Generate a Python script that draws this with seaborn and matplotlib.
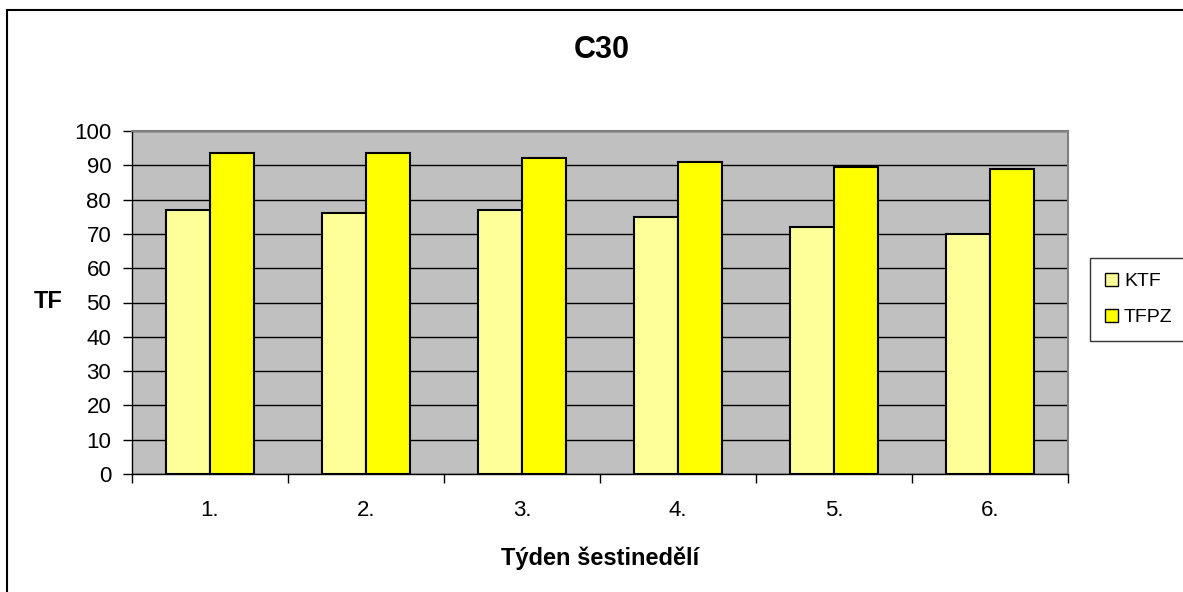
import matplotlib
matplotlib.use("Agg")
import matplotlib.pyplot as plt
import seaborn as sns
import pandas as pd
import numpy as np
from matplotlib.patches import Rectangle, Patch
from matplotlib.ticker import FixedLocator, NullFormatter

weeks = ["1.", "2.", "3.", "4.", "5.", "6."]
ktf = [77, 76, 77, 75, 72, 70]
tfpz = [93.5, 93.5, 92, 91, 89.5, 89]
series = ["KTF", "TFPZ"]
colors = {"KTF": "#FFFF99", "TFPZ": "#FFFF00"}

df = pd.DataFrame({
    "week": weeks * 2,
    "value": ktf + tfpz,
    "series": ["KTF"] * len(weeks) + ["TFPZ"] * len(weeks),
})

sns.set_theme(style="white")
plt.rcParams["font.family"] = ["Liberation Sans", "DejaVu Sans"]
plt.rcParams["text.color"] = "black"
plt.rcParams["axes.labelcolor"] = "black"

W, H = 1183, 592
fig = plt.figure(figsize=(W / 100, H / 100), dpi=100)
left, right, top, bottom = 132, 1068, 131, 474
ax = fig.add_axes([left / W, 1 - bottom / H, (right - left) / W, (bottom - top) / H])

sns.barplot(data=df, x="week", y="value", hue="series", palette=colors,
            width=0.57, gap=0, edgecolor="black", linewidth=1.5,
            saturation=1, ax=ax, legend=False, zorder=3)

ax.set_facecolor("#C0C0C0")
ax.set_ylim(0, 100)
ax.set_xlim(-0.5, len(weeks) - 0.5)
ax.set_yticks(np.arange(0, 101, 10))
ax.yaxis.grid(True, color="black", linewidth=1, zorder=1)
ax.xaxis.grid(False)
ax.set_axisbelow(True)

# category labels centred, tick marks on category boundaries
ax.tick_params(axis="x", which="major", length=0, labelsize=16, pad=19,
               labelcolor="black")
ax.xaxis.set_minor_locator(FixedLocator(np.arange(-0.5, len(weeks), 1.0)))
ax.xaxis.set_minor_formatter(NullFormatter())
ax.tick_params(axis="x", which="minor", length=6.5, width=1, color="black",
               direction="out", bottom=True)
ax.tick_params(axis="y", length=6.5, width=1, color="black", direction="out",
               labelsize=16, pad=8.5, left=True, labelcolor="black")

for side in ["left", "bottom"]:
    ax.spines[side].set_color("black")
    ax.spines[side].set_linewidth(1)
for side in ["top", "right"]:
    ax.spines[side].set_color("#808080")
    ax.spines[side].set_linewidth(1.5)

ax.set_xlabel("Týden šestinedělí", fontsize=17, fontweight="bold", labelpad=18)
ax.set_ylabel("TF", fontsize=17, fontweight="bold", rotation=0, va="center", ha="center")
ax.yaxis.set_label_coords((48 - left) / (right - left), (bottom - 301) / (bottom - top))

fig.text(602 / W, 1 - 50 / H, "C30", ha="center", va="center",
         fontsize=22, fontweight="bold")

# outer chart frame
fig.patches.append(Rectangle((7 / W, -0.1), 1.2, 1 - 10 / H + 0.1,
                             transform=fig.transFigure, fill=False,
                             edgecolor="black", linewidth=1.5))

handles = [Patch(facecolor=colors[s], edgecolor="black", linewidth=1, label=s) for s in series]
leg = fig.legend(handles=handles, loc="upper left", mode="expand",
                 bbox_to_anchor=(1090 / W, 1 - 341 / H, 120 / W, 83 / H),
                 frameon=True, fontsize=14, handlelength=0.7, handleheight=0.7,
                 handletextpad=0.3, labelspacing=0.95, borderpad=0.75,
                 fancybox=False, borderaxespad=0)
leg.get_frame().set_edgecolor("black")
leg.get_frame().set_linewidth(1)
for t in leg.get_texts():
    t.set_color("black")

fig.savefig("out.png", dpi=100)
